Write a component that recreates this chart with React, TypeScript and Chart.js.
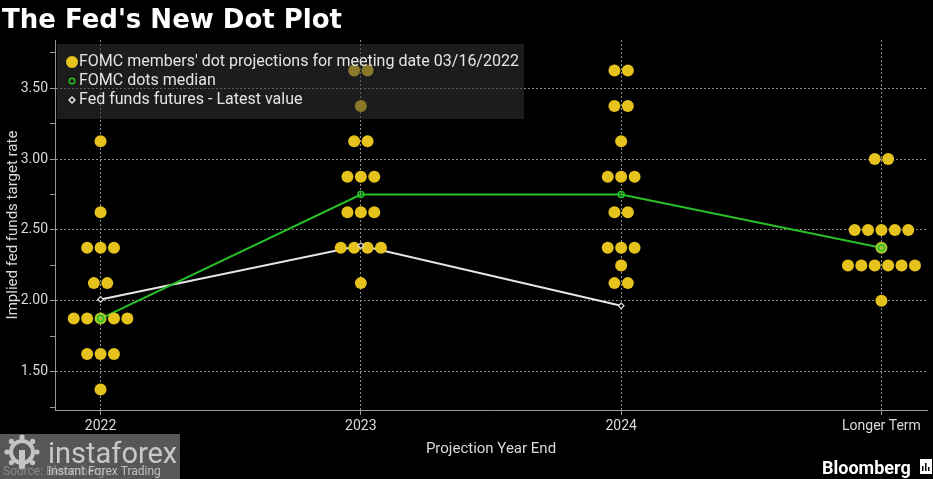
import React, { useEffect, useRef } from 'react';
import { Chart, registerables } from 'chart.js';

Chart.register(...registerables);

const TITLE = "The Fed's New Dot Plot";
const X_TITLE = 'Projection Year End';
const Y_TITLE = 'Implied fed funds target rate';
const CATEGORIES = ['2022', '2023', '2024', 'Longer Term'];
const LEGEND_DOTS = "FOMC members' dot projections for meeting date 03/16/2022";
const LEGEND_MEDIAN = 'FOMC dots median';
const LEGEND_FUTURES = 'Fed funds futures - Latest value';

const LEVELS_2022 = [3.125, 2.625, 2.375, 2.125, 1.875, 1.625, 1.375];
const COUNTS_2022 = [1, 1, 3, 2, 5, 3, 1];
const LEVELS_2023 = [3.625, 3.375, 3.125, 2.875, 2.625, 2.375, 2.125];
const COUNTS_2023 = [2, 1, 2, 3, 3, 4, 1];
const LEVELS_2024 = [3.625, 3.375, 3.125, 2.875, 2.625, 2.375, 2.25, 2.125];
const COUNTS_2024 = [2, 2, 1, 3, 2, 3, 1, 2];
const LEVELS_LONGER = [3.0, 2.5, 2.375, 2.25, 2.0];
const COUNTS_LONGER = [2, 5, 1, 6, 1];

const MEDIAN = [1.875, 2.75, 2.75, 2.375];
const FUTURES = [2.01, 2.39, 1.965];

const DOT_GAP = 0.0515;
const YELLOW = '#e5c21c';
const MEDIAN_DOT = '#a6c62c';
const GREEN = '#27c127';
const FONT = 'Roboto';

type Pt = { x: number; y: number };

function buildDots(): { pts: Pt[]; colors: string[] } {
  const cols = [
    [LEVELS_2022, COUNTS_2022],
    [LEVELS_2023, COUNTS_2023],
    [LEVELS_2024, COUNTS_2024],
    [LEVELS_LONGER, COUNTS_LONGER],
  ];
  const pts: Pt[] = [];
  const colors: string[] = [];
  cols.forEach(([levels, counts], col) => {
    levels.forEach((lv, i) => {
      const n = counts[i];
      for (let k = 0; k < n; k++) {
        const off = (k - (n - 1) / 2) * DOT_GAP;
        pts.push({ x: col + off, y: lv });
        colors.push(Math.abs(off) < 1e-9 && lv === MEDIAN[col] ? MEDIAN_DOT : YELLOW);
      }
    });
  });
  return { pts, colors };
}

const overlayPlugin = {
  id: 'overlay',
  beforeDraw(chart: any) {
    const ctx = chart.ctx;
    ctx.save();
    ctx.fillStyle = '#000';
    ctx.fillRect(0, 0, chart.width, chart.height);
    ctx.fillStyle = '#ffffff';
    ctx.font = `bold 26px "DejaVu Sans"`;
    ctx.textBaseline = 'alphabetic';
    ctx.textAlign = 'left';
    ctx.fillText(TITLE, 2, 28);
    ctx.restore();
  },
  afterDatasetsDraw(chart: any) {
    const ctx = chart.ctx;
    ctx.save();
    // legend box
    ctx.fillStyle = 'rgba(54,54,54,0.52)';
    ctx.fillRect(57, 44, 467, 75);
    ctx.font = `16px ${FONT}`;
    ctx.textBaseline = 'middle';
    ctx.textAlign = 'left';
    // item 1
    ctx.fillStyle = YELLOW;
    ctx.beginPath();
    ctx.arc(72, 62, 6, 0, Math.PI * 2);
    ctx.fill();
    ctx.fillStyle = '#e4e4e4';
    ctx.fillText(LEGEND_DOTS, 79, 62);
    // item 2
    ctx.strokeStyle = GREEN;
    ctx.lineWidth = 1.5;
    ctx.beginPath();
    ctx.arc(72, 81, 2.8, 0, Math.PI * 2);
    ctx.stroke();
    ctx.fillText(LEGEND_MEDIAN, 79, 81);
    // item 3
    ctx.strokeStyle = '#e4e4e4';
    ctx.beginPath();
    ctx.moveTo(72, 97);
    ctx.lineTo(75, 100);
    ctx.lineTo(72, 103);
    ctx.lineTo(69, 100);
    ctx.closePath();
    ctx.stroke();
    ctx.fillText(LEGEND_FUTURES, 79, 100);
    ctx.restore();
  },
  afterDraw(chart: any) {
    const ctx = chart.ctx;
    ctx.save();
    // watermark box
    ctx.fillStyle = '#575757';
    ctx.fillRect(0, 434, 180, 45);
    // gear logo
    ctx.strokeStyle = '#c4c4c4';
    ctx.fillStyle = '#c4c4c4';
    ctx.lineWidth = 4;
    ctx.beginPath();
    ctx.arc(22, 452, 11, 0, Math.PI * 2);
    ctx.stroke();
    for (let i = 0; i < 8; i++) {
      const a = (i * Math.PI) / 4;
      ctx.beginPath();
      ctx.arc(22 + Math.cos(a) * 15, 452 + Math.sin(a) * 15, 2.6, 0, Math.PI * 2);
      ctx.fill();
    }
    ctx.fillRect(19, 450, 6, 18);
    ctx.font = `29px ${FONT}`;
    ctx.textBaseline = 'alphabetic';
    ctx.fillStyle = '#c8c8c8';
    ctx.fillText('instaforex', 48, 463);
    ctx.font = `12px ${FONT}`;
    ctx.fillStyle = '#8a8a8a';
    ctx.fillText('Source: Bloomberg', 3, 475);
    ctx.fillStyle = '#c0c0c0';
    ctx.fillText('Instant Forex Trading', 48, 475);
    // Bloomberg
    ctx.font = `bold 18px ${FONT}`;
    ctx.fillStyle = '#ffffff';
    ctx.fillText('Bloomberg', 822, 474);
    ctx.fillRect(920, 459, 12, 15);
    ctx.fillStyle = '#000';
    ctx.fillRect(922, 466, 1.5, 5);
    ctx.fillRect(925, 463, 1.5, 8);
    ctx.fillRect(928, 467, 1.5, 4);
    ctx.restore();
  },
};

export default function App() {
  const ref = useRef<HTMLCanvasElement | null>(null);

  useEffect(() => {
    if (!ref.current) return;
    const { pts, colors } = buildDots();
    const medianPts = MEDIAN.map((y, i) => ({ x: i, y }));
    const futPts = FUTURES.map((y, i) => ({ x: i, y }));
    const isMajor = (v: number) => Math.abs(v * 2 - Math.round(v * 2)) < 1e-9;

    const chart = new Chart(ref.current, {
      type: 'scatter',
      data: {
        datasets: [
          {
            label: 'median line',
            data: medianPts,
            showLine: true,
            borderColor: GREEN,
            borderWidth: 2,
            pointRadius: 0,
            order: 5,
          } as any,
          {
            label: 'futures line',
            data: futPts,
            showLine: true,
            borderColor: '#e6e6e6',
            borderWidth: 2,
            pointRadius: 0,
            order: 5,
          } as any,
          {
            label: LEGEND_DOTS,
            data: pts,
            pointRadius: 6,
            pointHoverRadius: 6,
            pointBackgroundColor: colors,
            pointBorderWidth: 0,
            borderColor: 'transparent',
            order: 3,
          } as any,
          {
            label: LEGEND_MEDIAN,
            data: medianPts,
            pointRadius: 3,
            pointBackgroundColor: 'rgba(0,0,0,0)',
            pointBorderColor: GREEN,
            pointBorderWidth: 1.5,
            order: 1,
          } as any,
          {
            label: LEGEND_FUTURES,
            data: futPts,
            pointStyle: 'rectRot',
            pointRadius: 2.8,
            pointBackgroundColor: '#000',
            pointBorderColor: '#e6e6e6',
            pointBorderWidth: 1.2,
            order: 1,
          } as any,
        ],
      },
      options: {
        responsive: false,
        animation: false,
        events: [],
        layout: { padding: { top: 40, left: 0, right: 0, bottom: 17 } },
        font: { family: FONT },
        plugins: {
          legend: { display: false },
          tooltip: { enabled: false },
          title: { display: false },
        },
        scales: {
          x: {
            type: 'linear',
            min: -0.175,
            max: 3.175,
            afterFit: (s: any) => {
              s.height = 52;
            },
            ticks: {
              stepSize: 1,
              includeBounds: false,
              autoSkip: false,
              maxRotation: 0,
              color: '#dadada',
              font: { family: FONT, size: 14 },
              padding: 3,
              callback: (v: any) => CATEGORIES[Math.round(v)] ?? '',
            },
            grid: {
              color: '#8c8c8c',
              lineWidth: 1,
              tickLength: 5,
              tickColor: '#9a9a9a',
            },
            border: { display: true, color: '#9a9a9a', dash: [2, 2] },
            title: {
              display: true,
              text: X_TITLE,
              color: '#dadada',
              font: { family: FONT, size: 15 },
              padding: { top: 4, bottom: 4 },
            },
          } as any,
          y: {
            type: 'linear',
            min: 1.23,
            max: 3.84,
            afterFit: (s: any) => {
              s.width = 55;
            },
            ticks: {
              stepSize: 0.25,
              includeBounds: false,
              autoSkip: false,
              color: '#dadada',
              font: { family: FONT, size: 14 },
              padding: 2,
              callback: (v: any) => (isMajor(Number(v)) ? Number(v).toFixed(2) : ''),
            },
            grid: {
              color: (c: any) => (c.tick && isMajor(c.tick.value) ? '#8c8c8c' : 'rgba(0,0,0,0)'),
              lineWidth: 1,
              tickLength: 5,
              tickColor: '#9a9a9a',
            },
            border: { display: true, color: '#9a9a9a', dash: [2, 2] },
            title: {
              display: true,
              text: Y_TITLE,
              color: '#dadada',
              font: { family: FONT, size: 15 },
              padding: { top: 4, bottom: 4 },
            },
          } as any,
        },
      },
      plugins: [overlayPlugin],
    });
    return () => chart.destroy();
  }, []);

  return (
    <div style={{ position: 'fixed', left: 0, top: 0, width: 933, height: 479, background: '#000' }}>
      <canvas ref={ref} width={933} height={479} style={{ display: 'block' }} />
    </div>
  );
}
